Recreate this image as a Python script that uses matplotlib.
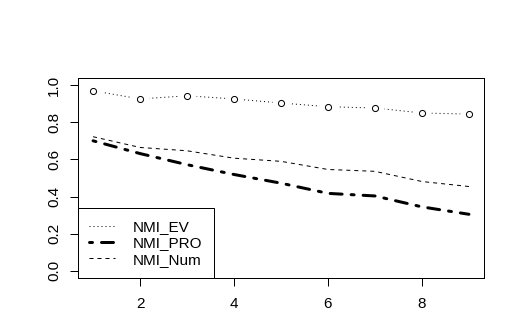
import matplotlib.pyplot as plt
import numpy as np

plt.rcParams['font.family'] = ['Liberation Sans', 'DejaVu Sans']

x = np.arange(1, 10)
nmi_ev = [0.971, 0.927, 0.944, 0.927, 0.905, 0.885, 0.878, 0.851, 0.845]
nmi_pro = [0.701, 0.632, 0.572, 0.519, 0.472, 0.417, 0.403, 0.344, 0.304]
nmi_num = [0.723, 0.665, 0.647, 0.607, 0.590, 0.546, 0.536, 0.481, 0.454]
labels = ['NMI_EV', 'NMI_PRO', 'NMI_Num']

fig = plt.figure(figsize=(5.25, 3.3), dpi=100)
ax = fig.add_axes([0.1486, 0.1576, 0.7733, 0.606])

# R style type="b": dotted line with gaps around open circles
ev_line, = ax.plot(x, nmi_ev, color='black', lw=0.72, dashes=(1, 3))
ax.plot(x, nmi_ev, ls='none', marker='o', ms=13, mfc='white', mec='none')
ax.plot(x, nmi_ev, ls='none', marker='o', ms=4.4, mfc='white', mec='black', mew=0.72)
# thick dot-dash line (R lty="dotdash", lwd=3)
pro_line, = ax.plot(x, nmi_pro, color='black', lw=2.16, dashes=(1, 3, 4, 3),
                    dash_capstyle='round')
num_line, = ax.plot(x, nmi_num, color='black', lw=0.72, dashes=(4, 4))

ax.set_xlim(0.68, 9.32)
ax.set_ylim(-0.04, 1.04)
ax.set_xticks([2, 4, 6, 8])
ax.set_yticks([0.0, 0.2, 0.4, 0.6, 0.8, 1.0])
ax.set_yticklabels(['0.0', '0.2', '0.4', '0.6', '0.8', '1.0'], rotation=90, va='center')
ax.tick_params(direction='out', length=5.8, width=0.72, labelsize=11, pad=8)
ax.tick_params(axis='y', pad=6.5)
for s in ax.spines.values():
    s.set_linewidth(0.72)

leg = ax.legend([ev_line, pro_line, num_line], labels, loc='lower left',
                fontsize=11, borderaxespad=0, fancybox=False, framealpha=1,
                edgecolor='black', handlelength=1.64, handletextpad=1.2,
                borderpad=0.75, labelspacing=0.15)
leg.get_frame().set_linewidth(0.72)

fig.savefig('out.png', dpi=100)
